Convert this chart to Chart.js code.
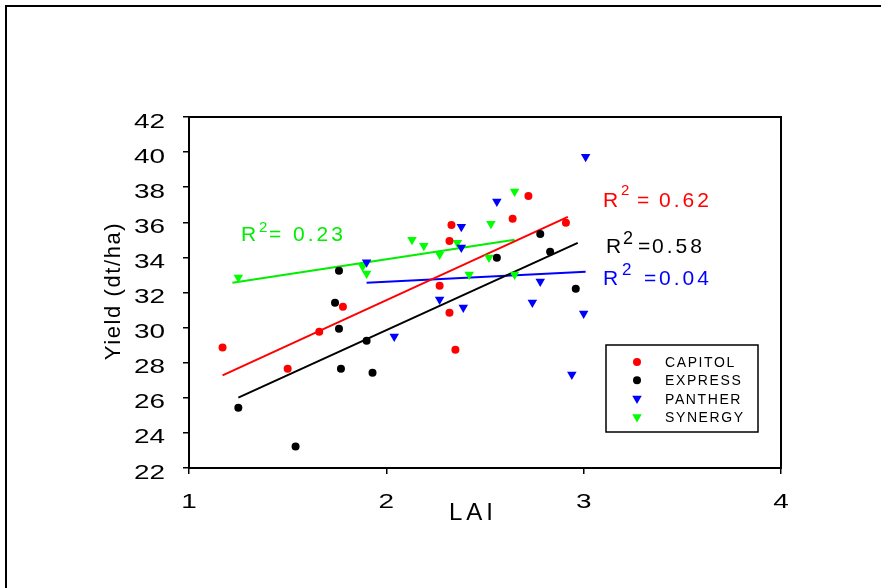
<!DOCTYPE html>
<html>
<head>
<meta charset="utf-8">
<script src="https://cdn.jsdelivr.net/npm/chart.js@4.4.0/dist/chart.umd.min.js"></script>
<style>
html, body { margin: 0; padding: 0; background: #fff; }
#wrap { width: 881px; height: 588px; }
</style>
</head>
<body>
<div id="wrap"><canvas id="myChart" width="881" height="588"></canvas></div>
<script>
// values
var capitolLai   = [1.17, 1.50, 1.66, 1.78, 2.27, 2.32, 2.33, 2.32, 2.35, 2.64, 2.72, 2.91];
var capitolYield = [28.86, 27.66, 29.77, 31.19, 32.38, 30.85, 35.85, 34.94, 28.74, 36.20, 37.50, 35.97];

var expressLai   = [1.25, 1.54, 1.76, 1.74, 1.76, 1.77, 1.90, 1.93, 2.56, 2.78, 2.83, 2.96];
var expressYield = [25.44, 23.22, 33.24, 31.42, 29.94, 27.66, 29.25, 27.43, 33.98, 35.34, 34.32, 32.21];

var pantherLai   = [1.90, 2.04, 2.27, 2.38, 2.38, 2.39, 2.56, 2.74, 2.78, 2.94, 3.00, 3.01];
var pantherYield = [33.72, 29.50, 31.60, 35.75, 34.56, 31.15, 37.18, 31.43, 32.62, 27.33, 30.80, 39.74];

var synergyLai   = [1.25, 1.88, 1.90, 2.13, 2.19, 2.36, 2.27, 2.42, 2.53, 2.52, 2.65, 2.65];
var synergyYield = [32.85, 33.48, 33.08, 35.01, 34.67, 34.84, 34.16, 33.02, 35.92, 33.99, 37.75, 33.02];

// regression line end points
var capitolFitLai = [1.17, 2.92], capitolFit = [27.28, 36.31];
var expressFitLai = [1.25, 2.97], expressFit = [26.01, 34.83];
var pantherFitLai = [1.90, 3.01], pantherFit = [32.55, 33.18];
var synergyFitLai = [1.22, 2.65], synergyFit = [32.55, 35.00];

var cultivars = ['CAPITOL', 'EXPRESS', 'PANTHER', 'SYNERGY'];
var r2Labels = ['0.62', '0.58', '0.04', '0.23'];

var xTicks = [1, 2, 3, 4];
var yTicks = [22, 24, 26, 28, 30, 32, 34, 36, 38, 40, 42];

var FONT = '"Liberation Sans", Arial, Helvetica, sans-serif';

function pts(xs, ys) {
    return xs.map(function (x, i) { return { x: x, y: ys[i] }; });
}

function pointSet(label, xs, ys, color, style) {
    return {
        label: label,
        data: pts(xs, ys),
        backgroundColor: color,
        borderWidth: 0,
        pointStyle: style,
        rotation: style == 'triangle' ? 180 : 0,
        pointRadius: style == 'triangle' ? 5.5 : 4,
        showLine: false
    };
}

function fitSet(xs, ys, color) {
    return {
        label: 'fit',
        data: pts(xs, ys),
        borderColor: color,
        borderWidth: 2,
        pointRadius: 0,
        showLine: true,
        fill: false
    };
}

function txt(c, s, x, y, size, color, spacing, align) {
    c.font = size + 'px ' + FONT;
    c.fillStyle = color;
    c.letterSpacing = (spacing || 0) + 'px';
    c.textAlign = align || 'left';
    c.textBaseline = 'alphabetic';
    c.fillText(s, x, y);
}

// text drawn a bit wider than the font, like the tick numbers in the picture
function wideTxt(c, s, x, y, size, sx, align) {
    c.save();
    c.translate(x, y);
    c.scale(sx, 1);
    txt(c, s, 0, 0, size, '#000', 0, align);
    c.restore();
}

// R^2 labels: [R x, baseline, sup x, sup baseline, sup size, "=" x, number x, color]
var r2Pos = [
    [603, 207, 621, 195, 15, 637, 659, '#ff0000'],
    [606, 253, 623, 244, 18, 638, 652, '#000000'],
    [603, 285, 622, 275, 17, 644, 659, '#0000ff'],
    [241, 241, 259, 232, 15, 269, 293, '#00ee00']
];

var decor = {
    id: 'decor',
    beforeDraw: function (chart) {
        var c = chart.ctx;
        c.save();
        c.fillStyle = '#fff';
        c.fillRect(0, 0, chart.width, chart.height);
        c.restore();
    },
    afterDraw: function (chart) {
        var c = chart.ctx, a = chart.chartArea;
        var xs = chart.scales.x, ys = chart.scales.y;
        c.save();

        // outer frame (only top and left edges are inside the picture)
        c.strokeStyle = '#000';
        c.lineWidth = 2;
        c.beginPath();
        c.moveTo(6, chart.height);
        c.lineTo(6, 6);
        c.lineTo(chart.width, 6);
        c.stroke();

        // plot box
        c.strokeRect(a.left, a.top, a.right - a.left, a.bottom - a.top);

        // tick labels, placed by the scales
        xs.ticks.forEach(function (t) {
            wideTxt(c, String(t.value), xs.getPixelForValue(t.value), a.bottom + 40, 21, 1.33, 'center');
        });
        ys.ticks.forEach(function (t) {
            wideTxt(c, String(t.value), a.left - 24, ys.getPixelForValue(t.value) + 10.5, 21, 1.33, 'right');
        });

        // axis titles
        txt(c, 'LAI', 473, 520, 24, '#000', 4, 'center');
        c.save();
        c.translate(120, 291);
        c.rotate(-Math.PI / 2);
        txt(c, 'Yield (dt/ha)', 0, 0, 22, '#000', 1.6, 'center');
        c.restore();

        // R^2 annotations
        r2Pos.forEach(function (p, i) {
            txt(c, 'R', p[0], p[1], 21, p[7], 0);
            txt(c, '2', p[2], p[3], p[4], p[7], 0);
            txt(c, '=', p[5], p[1], 21, p[7], 0);
            txt(c, r2Labels[i], p[6], p[1], 21, p[7], 3);
        });

        // legend box
        c.lineWidth = 1.5;
        c.strokeStyle = '#000';
        c.strokeRect(606, 345, 152, 87);
        for (var i = 0; i < cultivars.length; i++) {
            var ds = chart.data.datasets[i];
            var y = 362 + i * 18.3;
            c.fillStyle = ds.backgroundColor;
            Chart.helpers.drawPoint(c, {
                pointStyle: ds.pointStyle,
                rotation: ds.rotation,
                radius: ds.pointRadius,
                borderWidth: 0
            }, 637, y);
            txt(c, cultivars[i], 665, y + 5, 14, '#000', 1.6);
        }
        c.restore();
    }
};

var ctx = document.getElementById('myChart').getContext('2d');
var chart = new Chart(ctx, {
    type: 'scatter',
    data: {
        datasets: [
            pointSet(cultivars[0], capitolLai, capitolYield, '#ff0000', 'circle'),
            pointSet(cultivars[1], expressLai, expressYield, '#000000', 'circle'),
            pointSet(cultivars[2], pantherLai, pantherYield, '#0000ff', 'triangle'),
            pointSet(cultivars[3], synergyLai, synergyYield, '#00ff00', 'triangle'),
            fitSet(capitolFitLai, capitolFit, '#ff0000'),
            fitSet(expressFitLai, expressFit, '#000000'),
            fitSet(pantherFitLai, pantherFit, '#0000ff'),
            fitSet(synergyFitLai, synergyFit, '#00ee00')
        ]
    },
    options: {
        responsive: false,
        animation: false,
        events: [],
        layout: { padding: { left: 0, top: 117, right: 100, bottom: 0 } },
        plugins: { legend: { display: false }, tooltip: { enabled: false } },
        scales: {
            x: {
                type: 'linear',
                min: 1,
                max: 4,
                afterBuildTicks: function (s) { s.ticks = xTicks.map(function (v) { return { value: v }; }); },
                afterFit: function (s) { s.height = 120; },
                grid: { drawOnChartArea: false, drawTicks: true, tickLength: 6, color: '#000', lineWidth: 1.5 },
                border: { display: true, color: '#000', width: 2 },
                ticks: { display: false }
            },
            y: {
                type: 'linear',
                min: 22,
                max: 42,
                afterBuildTicks: function (s) { s.ticks = yTicks.map(function (v) { return { value: v }; }); },
                afterFit: function (s) { s.width = 189; },
                grid: { drawOnChartArea: false, drawTicks: true, tickLength: 6, color: '#000', lineWidth: 1.5 },
                border: { display: true, color: '#000', width: 2 },
                ticks: { display: false }
            }
        }
    },
    plugins: [decor]
});
</script>
</body>
</html>
